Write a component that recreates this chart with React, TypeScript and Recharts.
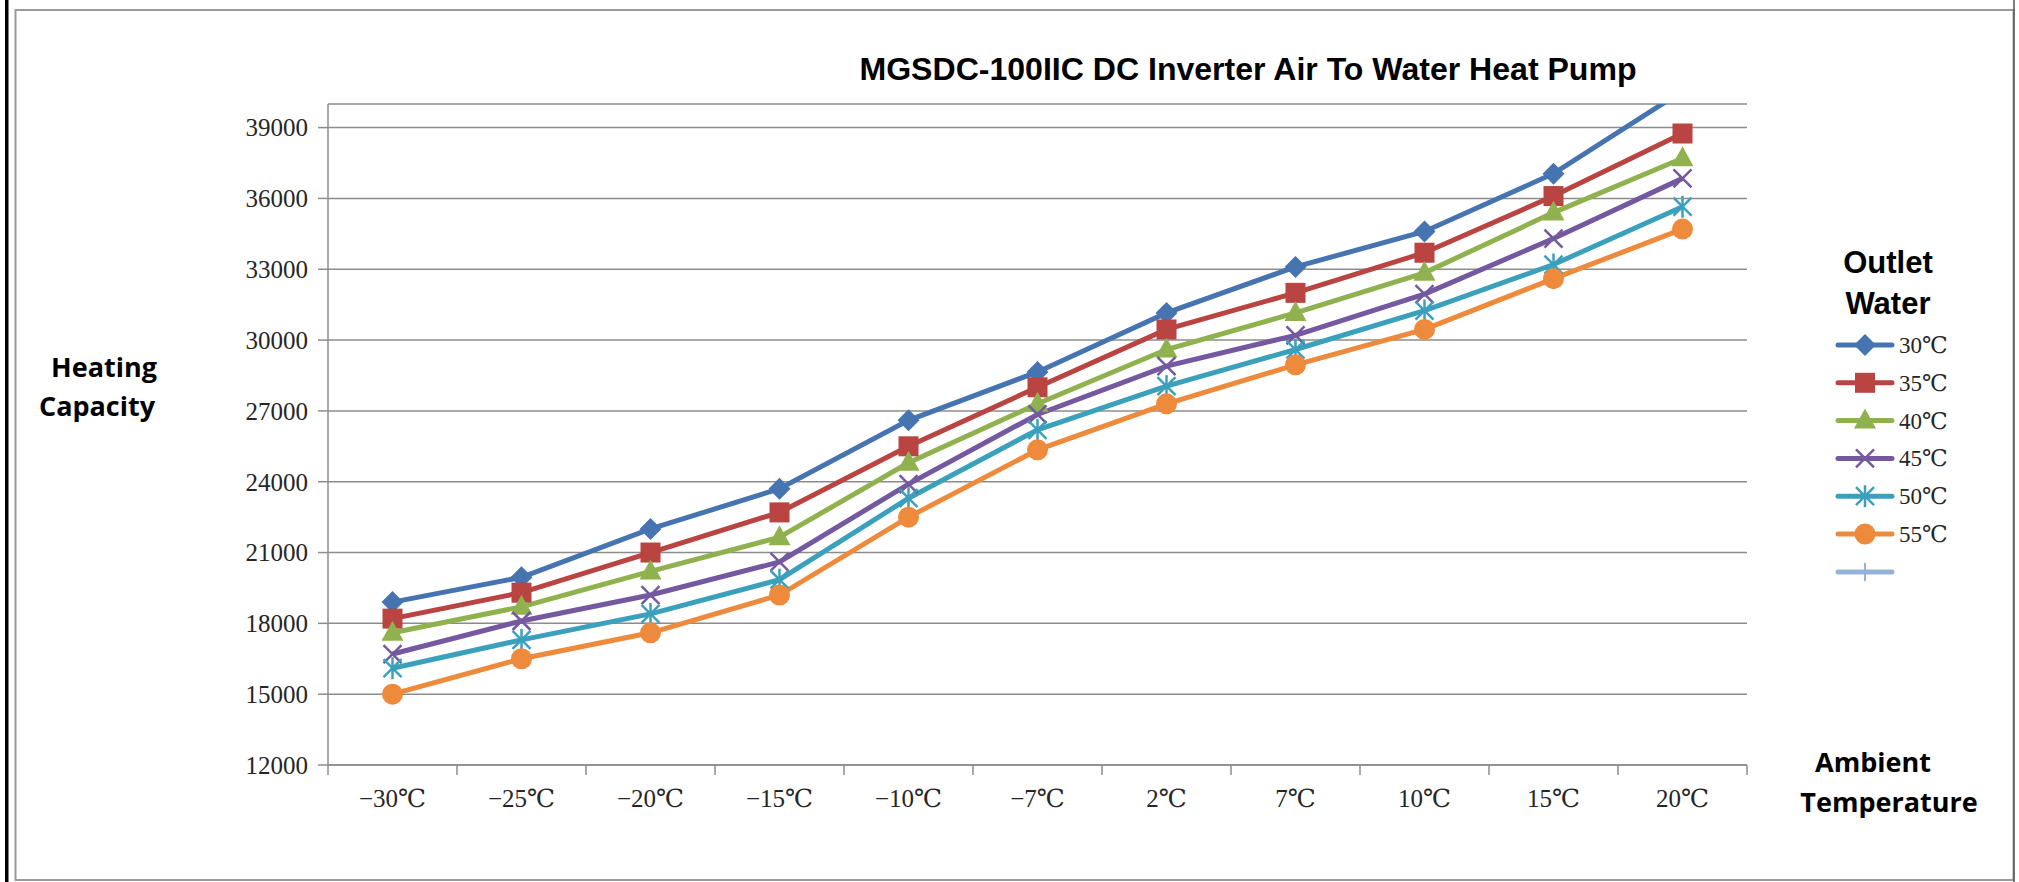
import React from 'react';
import { LineChart, Line, XAxis, YAxis, CartesianGrid } from 'recharts';

const categories = ['−30℃', '−25℃', '−20℃', '−15℃', '−10℃', '−7℃', '2℃', '7℃', '10℃', '15℃', '20℃'];

const water30 = [18900, 19950, 22000, 23700, 26600, 28650, 31150, 33100, 34600, 37050, 40550];
const water35 = [18200, 19300, 21000, 22700, 25500, 28000, 30450, 32000, 33700, 36100, 38750];
const water40 = [17600, 18700, 20200, 21650, 24800, 27300, 29600, 31150, 32850, 35400, 37700];
const water45 = [16700, 18100, 19200, 20600, 23900, 26850, 28900, 30200, 31950, 34300, 36850];
const water50 = [16100, 17300, 18400, 19850, 23300, 26200, 28050, 29600, 31250, 33200, 35650];
const water55 = [15000, 16500, 17600, 19200, 22500, 25350, 27300, 28950, 30450, 32600, 34700];

const yTicks = [12000, 15000, 18000, 21000, 24000, 27000, 30000, 33000, 36000, 39000];
const Y_MIN = 12000;
const Y_MAX = 40000;

type Shape = 'diamond' | 'square' | 'triangle' | 'cross' | 'star' | 'circle';

const series: { key: string; name: string; color: string; shape: Shape; values: number[] }[] = [
  { key: 'w30', name: '30℃', color: '#4674B0', shape: 'diamond', values: water30 },
  { key: 'w35', name: '35℃', color: '#B94441', shape: 'square', values: water35 },
  { key: 'w40', name: '40℃', color: '#8FB24F', shape: 'triangle', values: water40 },
  { key: 'w45', name: '45℃', color: '#7458A0', shape: 'cross', values: water45 },
  { key: 'w50', name: '50℃', color: '#3BA0BC', shape: 'star', values: water50 },
  { key: 'w55', name: '55℃', color: '#EE8A3C', shape: 'circle', values: water55 },
];

// x sits in the middle of each category band so ticks can fall on the band edges
const data = categories.map((c, i) => {
  const row: Record<string, number | string> = { x: i + 0.5, cat: c };
  series.forEach((s) => { row[s.key] = s.values[i]; });
  return row;
});

const xTicks = Array.from({ length: categories.length * 2 + 1 }, (_, i) => i / 2);

const GRID = '#8c8c8c';
const SERIF = "'Liberation Serif', 'DejaVu Serif', serif";

const Marker = ({ shape, color, cx, cy }: { shape: Shape; color: string; cx: number; cy: number }) => {
  switch (shape) {
    case 'diamond':
      return <polygon points={`${cx},${cy - 11} ${cx + 11},${cy} ${cx},${cy + 11} ${cx - 11},${cy}`} fill={color} />;
    case 'square':
      return <rect x={cx - 10} y={cy - 10} width={20} height={20} fill={color} />;
    case 'triangle':
      return <polygon points={`${cx},${cy - 12} ${cx + 11},${cy + 8} ${cx - 11},${cy + 8}`} fill={color} />;
    case 'cross':
      return (
        <g stroke={color} strokeWidth={2.5}>
          <line x1={cx - 9} y1={cy - 9} x2={cx + 9} y2={cy + 9} />
          <line x1={cx - 9} y1={cy + 9} x2={cx + 9} y2={cy - 9} />
        </g>
      );
    case 'star':
      return (
        <g stroke={color} strokeWidth={2.5}>
          <line x1={cx - 9} y1={cy - 9} x2={cx + 9} y2={cy + 9} />
          <line x1={cx - 9} y1={cy + 9} x2={cx + 9} y2={cy - 9} />
          <line x1={cx} y1={cy - 11} x2={cx} y2={cy + 11} />
        </g>
      );
    default:
      return <circle cx={cx} cy={cy} r={10.5} fill={color} />;
  }
};

const makeDot = (shape: Shape, color: string) => (props: any) => {
  const { cx, cy, value, index } = props;
  if (cx == null || cy == null || value > Y_MAX) return <g key={`d-${index}`} />;
  return (
    <g key={`d-${index}`}>
      <Marker shape={shape} color={color} cx={cx} cy={cy} />
    </g>
  );
};

const XTick = (props: any) => {
  const { x, y, payload } = props;
  const v = payload.value as number;
  if (Number.isInteger(v)) {
    return <line x1={x} x2={x} y1={y} y2={y + 10} stroke={GRID} strokeWidth={1.5} />;
  }
  return (
    <text x={x} y={y + 42} textAnchor="middle" fontFamily={SERIF} fontSize={25} fill="#262626">
      {categories[Math.floor(v)]}
    </text>
  );
};

const Overlay = () => (
  <svg width={2019} height={882} style={{ position: 'absolute', left: 0, top: 0, pointerEvents: 'none' }}>
    {/* frame */}
    <rect x={5} y={0} width={3.5} height={882} fill="#000" />
    <rect x={15.5} y={10} width={1998} height={870} fill="none" stroke="#9a9a9a" strokeWidth={2} />
    <line x1={2014} y1={0} x2={2014} y2={882} stroke="#555" strokeWidth={1.5} />

    <text x={1248} y={79.5} textAnchor="middle" fontFamily="'Liberation Sans', Arial, sans-serif"
      fontWeight="bold" fontSize={31} textLength={777} lengthAdjust="spacingAndGlyphs" fill="#000">
      MGSDC-100IIC DC Inverter Air To Water Heat Pump
    </text>

    <g fontFamily="'Open Sans', sans-serif" fontWeight="bold" fontSize={27} fill="#000" textAnchor="middle">
      <text x={104} y={377}>Heating</text>
      <text x={97} y={416}>Capacity</text>
      <text x={1873} y={772}>Ambient</text>
      <text x={1889} y={812}>Temperature</text>
    </g>

    {/* legend */}
    <g fontFamily="'Liberation Sans', Arial, sans-serif" fontWeight="bold" fontSize={31} fill="#000" textAnchor="middle">
      <text x={1888} y={273}>Outlet</text>
      <text x={1888} y={314}>Water</text>
    </g>
    {series.map((s, i) => {
      const cy = 345 + i * 37.8;
      return (
        <g key={s.key}>
          <line x1={1838} x2={1892} y1={cy} y2={cy} stroke={s.color} strokeWidth={5} strokeLinecap="round" />
          <Marker shape={s.shape} color={s.color} cx={1865} cy={cy} />
          <text x={1899} y={cy + 8} fontFamily={SERIF} fontSize={23} fill="#262626">{s.name}</text>
        </g>
      );
    })}
    <g>
      <line x1={1838} x2={1892} y1={572} y2={572} stroke="#95B3D7" strokeWidth={5} strokeLinecap="round" />
      <line x1={1865} x2={1865} y1={563} y2={581} stroke="#95B3D7" strokeWidth={2} />
    </g>
  </svg>
);

export default function App() {
  return (
    <div style={{ position: 'absolute', left: 0, top: 0, width: 2019, height: 882, background: '#fff', overflow: 'hidden' }}>
      <LineChart width={2019} height={882} data={data} margin={{ top: 104, right: 272, bottom: 77, left: 248 }}>
        <CartesianGrid vertical={false} stroke={GRID} strokeWidth={1.5} />
        <XAxis
          dataKey="x"
          type="number"
          domain={[0, categories.length]}
          ticks={xTicks}
          interval={0}
          height={40}
          tickSize={0}
          tickMargin={0}
          tickLine={false}
          tick={<XTick />}
          axisLine={{ stroke: GRID, strokeWidth: 1.5 }}
        />
        <YAxis
          domain={[Y_MIN, Y_MAX]}
          ticks={yTicks}
          interval={0}
          allowDataOverflow
          width={80}
          tickSize={10}
          tickMargin={10}
          axisLine={{ stroke: GRID, strokeWidth: 1.5 }}
          tickLine={{ stroke: GRID, strokeWidth: 1.5 }}
          tick={{ fill: '#262626', fontSize: 25, fontFamily: SERIF }}
        />
        {series.map((s) => (
          <Line
            key={s.key}
            type="linear"
            dataKey={s.key}
            name={s.name}
            stroke={s.color}
            strokeWidth={5}
            dot={makeDot(s.shape, s.color)}
            activeDot={false}
            isAnimationActive={false}
          />
        ))}
      </LineChart>
      <Overlay />
    </div>
  );
}
